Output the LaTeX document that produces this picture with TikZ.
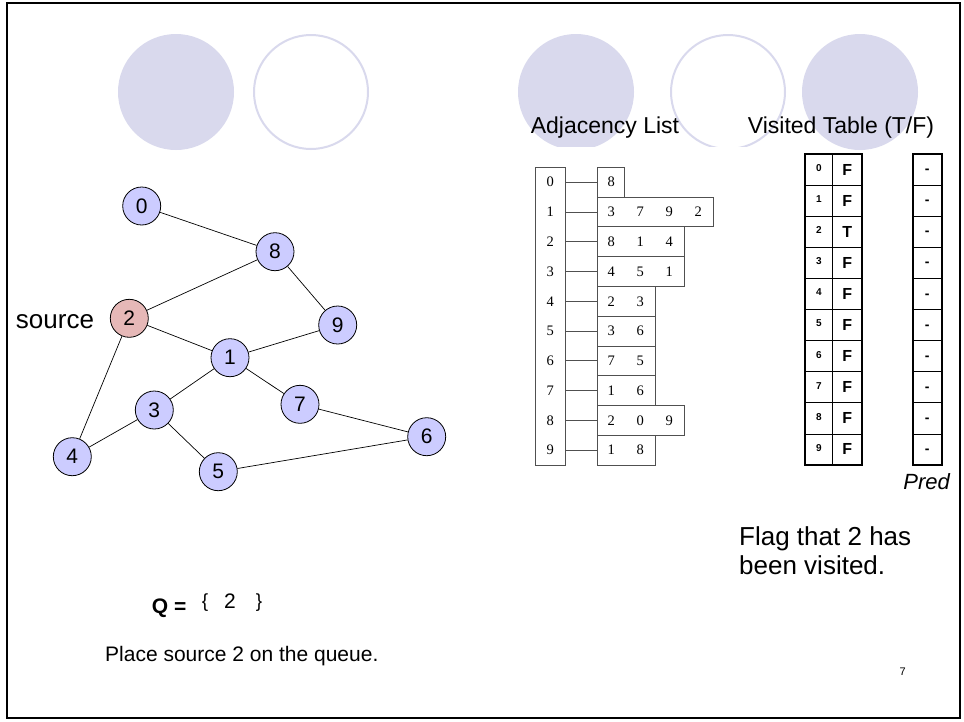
\documentclass[tikz,border=0pt]{standalone}
\usepackage{fontspec}
\setmainfont{Liberation Sans}
\newfontfamily\serifdigits{Liberation Serif}
\begin{document}
\begin{tikzpicture}[x=1pt,y=-1pt,
  decoring/.style={draw=decocol,line width=2pt},
  vertex/.style={circle,draw=black,line width=0.8pt,fill=vcol,minimum size=38pt,inner sep=0pt,font=\fontsize{21}{21}\selectfont},
  srcvertex/.style={vertex,fill=scol},
  edge/.style={line width=0.7pt},
  adjcell/.style={draw=adjline,line width=0.7pt,minimum height=29.77pt,inner sep=0pt,anchor=west},
  adjnum/.style={font=\serifdigits\fontsize{14.5}{14.5}\selectfont},
  idxcell/.style={draw,line width=0.8pt,minimum width=27.7pt,minimum height=31.1pt,inner sep=0pt,font=\bfseries\fontsize{10}{10}\selectfont},
  flagcell/.style={draw,line width=0.8pt,minimum width=29pt,minimum height=31.1pt,inner sep=0pt,font=\bfseries\fontsize{16}{16}\selectfont},
  predcell/.style={draw,line width=0.8pt,minimum width=29pt,minimum height=31.1pt,inner sep=0pt,text height=0.82em,text depth=0pt,font=\bfseries\fontsize{14}{14}\selectfont},
  heading/.style={font=\fontsize{23}{23}\selectfont,anchor=base,inner sep=0pt},
  bodytext/.style={font=\fontsize{21}{21}\selectfont,anchor=base west,inner sep=0pt}
]
\definecolor{decocol}{RGB}{217,217,237}
\definecolor{vcol}{RGB}{204,204,255}
\definecolor{scol}{RGB}{230,184,183}
\definecolor{adjline}{RGB}{80,80,80}

\useasboundingbox (0,0) rectangle (964,721);
\fill[white] (0,0) rectangle (964,721);

% slide frame
\draw[line width=2pt] (7,3) rectangle (960,718);

% decorative circles along the top
\fill[decocol] (176,92) circle (58);
\draw[decoring] (311,92) circle (57);
\begin{scope}
  \clip (500,0) rectangle (800,146);
  \fill[decocol] (576,92) circle (58);
  \draw[decoring] (728,92) circle (57);
\end{scope}
\fill[decocol] (860,92) circle (58);

% graph
\node[vertex] (n0) at (141.7,206) {0};
\node[vertex] (n8) at (275,251.7) {8};
\node[srcvertex] (n2) at (129.3,318.3) {2};
\node[vertex] (n9) at (337.7,325) {9};
\node[vertex] (n1) at (230,357.7) {1};
\node[vertex] (n7) at (300,404.3) {7};
\node[vertex] (n3) at (154.3,410) {3};
\node[vertex] (n6) at (426.7,436.7) {6};
\node[vertex] (n4) at (72.3,456.7) {4};
\node[vertex] (n5) at (218.3,471.7) {5};
\foreach \a/\b in {0/8,8/2,8/9,2/1,9/1,2/4,1/3,1/7,3/4,3/5,7/6,5/6}
  \draw[edge] (n\a) -- (n\b);
\node[font=\fontsize{26}{26}\selectfont,anchor=base,inner sep=0pt] (srclabel) at (55,328) {source};

% adjacency list
\node[heading] (adjtitle) at (605,133) {Adjacency List};
\foreach \i/\n/\w in {0/1/27.6,1/4/29,2/3/29,3/3/29,4/2/29,5/2/29,6/2/29,7/2/29,8/3/29,9/2/29}{
  \pgfmathsetmacro{\yc}{167.3+29.77*(\i+0.5)}
  \node[adjnum,minimum width=29.3pt,inner sep=0pt] (L\i) at (550.35,\yc) {\i};
  \pgfmathsetmacro{\rw}{\n*\w}
  \node[adjcell,minimum width=\rw pt] (R\i) at (596.7,\yc) {};
  \draw[adjline,line width=0.7pt] (L\i.east) -- (R\i.west);
}
\draw[adjline,line width=0.7pt] (535.7,167.3) rectangle (565,465);
\foreach \i/\list in {0/{8},1/{3,7,9,2},2/{8,1,4},3/{4,5,1},4/{2,3},5/{3,6},6/{7,5},7/{1,6},8/{2,0,9},9/{1,8}}{
  \foreach \v [count=\k from 0] in \list
    \node[adjnum] (A\i-\k) at ([xshift=14.5pt+29pt*\k]R\i.west) {\v};
}

% visited table and predecessor column
\node[heading] (vtitle) at (841,133) {Visited Table (T/F)};
\foreach \i/\f in {0/F,1/F,2/T,3/F,4/F,5/F,6/F,7/F,8/F,9/F}{
  \pgfmathsetmacro{\yc}{154+31.1*(\i+0.5)}
  \node[idxcell] (I\i) at (818.85,\yc) {\raisebox{3pt}{\i}};
  \node[flagcell] (F\i) at (847.2,\yc) {\f};
  \node[predcell] (P\i) at (927.2,\yc) {-};
}
\draw[line width=1.8pt] (805,154) rectangle (861.7,465);
\draw[line width=1.8pt] (912.7,154) rectangle (941.7,465);
\node[font=\itshape\fontsize{22}{22}\selectfont] (predlabel) at (926.7,482) {Pred};

% notes
\node[bodytext,font=\fontsize{26}{26}\selectfont] (flagnote) at (739,545) {Flag that 2 has};
\node[bodytext,font=\fontsize{26}{26}\selectfont] (flagnote2) at (739,574) {been visited.};
\node[bodytext,font=\bfseries\fontsize{21}{21}\selectfont] (qlabel) at (151.7,613) {Q =};
\node[font=\fontsize{19}{19}\selectfont] (qopen) at (205,603) {\{};
\node[font=\fontsize{21}{21}\selectfont] (qitem) at (230,601) {2};
\node[font=\fontsize{19}{19}\selectfont] (qclose) at (259,603) {\}};
\node[bodytext] (placenote) at (105,661.7) {Place source 2 on the queue.};
\node[font=\fontsize{11}{11}\selectfont] (pagenum) at (902.7,671.7) {7};
\end{tikzpicture}
\end{document}
